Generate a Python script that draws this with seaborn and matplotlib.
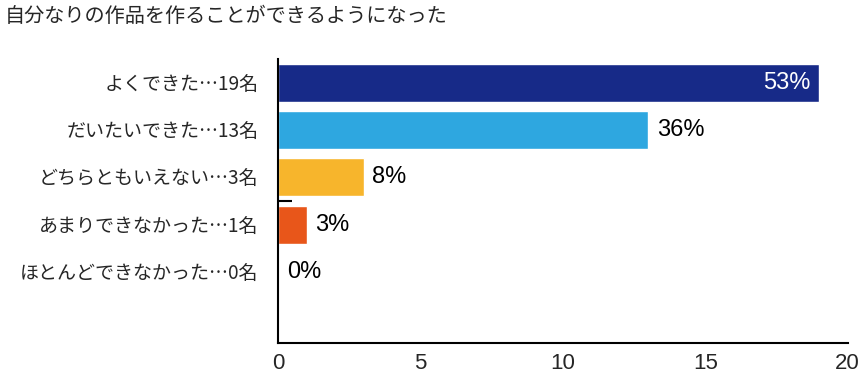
import pandas as pd
import numpy as np
import matplotlib
matplotlib.use("Agg")
import matplotlib.pyplot as plt
import seaborn as sns

# =========================
# DATOS
# =========================
titulo = "自分なりの作品を作ることができるようになった"
categorias = ["よくできた…19名", "だいたいできた…13名", "どちらともいえない…3名",
              "あまりできなかった…1名", "ほとんどできなかった…0名"]
personas = [19, 13, 3, 1, 0]
porcentajes = ["53%", "36%", "8%", "3%", "0%"]
colores = ["#172a88", "#2ea7e0", "#f7b52c", "#e8561a", "#9e9e9e"]

df = pd.DataFrame({"cat": categorias, "n": personas})

sns.set_style("white")
plt.rcParams["font.family"] = ["Noto Sans CJK JP", "DejaVu Sans"]
fuente_num = ["Liberation Sans", "DejaVu Sans"]

fig = plt.figure(figsize=(8.64, 3.75), dpi=100)
ax = fig.add_axes([0.322, 0.085, 0.659, 0.758])

sns.barplot(data=df, x="n", y="cat", hue="cat", palette=colores,
            orient="h", width=0.8, legend=False, ax=ax, saturation=1)

ax.set_xlim(0, 20)
ax.set_ylim(5.5, -0.5)
ax.set_xticks([0, 5, 10, 15, 20])
ax.set_xlabel("")
ax.set_ylabel("")
ax.tick_params(axis="x", direction="in", length=6, width=1.2, labelsize=16, pad=7, color="black")
ax.tick_params(axis="y", length=0, labelsize=13.7, pad=14)
for t in ax.get_xticklabels():
    t.set_family(fuente_num)
ax.set_yticks([2.5], minor=True)
ax.tick_params(axis="y", which="minor", direction="in", length=10, width=1.5, color="black", left=True)

for lado in ["top", "right"]:
    ax.spines[lado].set_visible(False)
for lado in ["left", "bottom"]:
    ax.spines[lado].set_color("black")
    ax.spines[lado].set_linewidth(1.5)

# etiquetas de porcentaje
for i, (v, p) in enumerate(zip(personas, porcentajes)):
    if v >= 15:
        ax.text(v - 0.3, i, p, ha="right", va="center", color="white", fontsize=17, family=fuente_num)
    else:
        ax.text(v + 0.3, i, p, ha="left", va="center", color="black", fontsize=17, family=fuente_num)

fig.text(0.006, 0.955, titulo, ha="left", va="center", fontsize=14.5)

plt.savefig("out.png", dpi=100)
